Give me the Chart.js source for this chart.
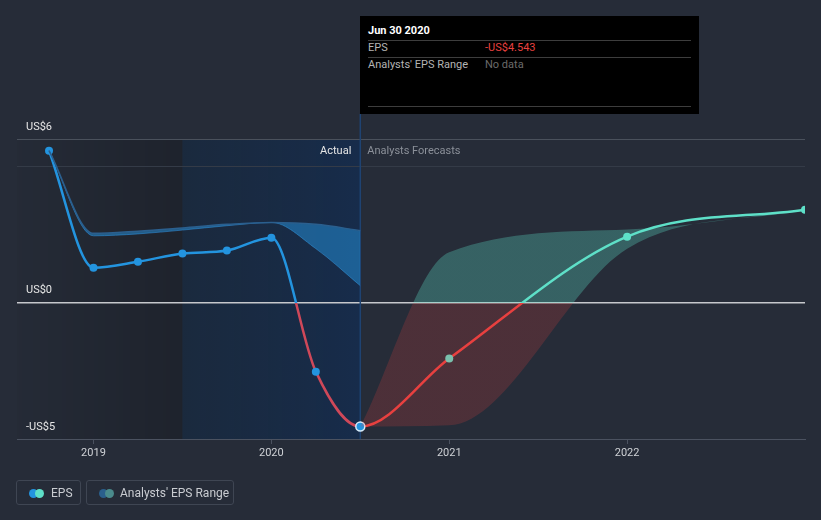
<!DOCTYPE html>
<html>
<head>
<meta charset="utf-8">
<script src="https://cdn.jsdelivr.net/npm/chart.js@4.4.0/dist/chart.umd.min.js"></script>
<style>
body{margin:0;background:#262c38;font-family:Roboto,"Noto Sans",sans-serif;}
#wrap{position:relative;width:821px;height:520px;overflow:hidden;}
#chart{position:absolute;left:0;top:0;}
#tip{position:absolute;left:360px;top:16px;width:339px;height:98px;background:#000;font-size:11px;}
#tip .t{position:absolute;left:8px;top:8px;color:#fff;font-weight:bold;}
#tip .rule{position:absolute;left:8px;width:323px;height:1px;background:#3d3d3d;}
#tip .k{position:absolute;left:8px;color:#b4b4b4;}
#tip .v{position:absolute;left:125px;}
.leg{position:absolute;top:480px;height:25px;border:1px solid #3f4653;border-radius:3px;color:#c9ccd1;font-size:12px;line-height:25px;box-sizing:border-box;}
.dot{position:absolute;top:8px;width:9px;height:9px;border-radius:50%;}
</style>
</head>
<body>
<div id="wrap">
  <canvas id="chart" width="821" height="520"></canvas>
  <div id="tip">
    <div class="t">Jun 30 2020</div>
    <div class="rule" style="top:24px"></div>
    <div class="k" style="top:25px">EPS</div>
    <div class="v" style="top:25px;color:#e8413f">-US$4.543</div>
    <div class="rule" style="top:41px"></div>
    <div class="k" style="top:42px">Analysts' EPS Range</div>
    <div class="v" style="top:42px;color:#6b6b6b">No data</div>
    <div class="rule" style="top:90px"></div>
  </div>
  <div class="leg" style="left:16px;width:65px">
    <span class="dot" style="left:12px;background:#2394df"></span>
    <span class="dot" style="left:18px;background:#5ee0c8"></span>
    <span style="position:absolute;left:34px">EPS</span>
  </div>
  <div class="leg" style="left:86px;width:148px">
    <span class="dot" style="left:12px;background:#2a5f8c"></span>
    <span class="dot" style="left:18px;background:#4a8b8c"></span>
    <span style="position:absolute;left:33px">Analysts' EPS Range</span>
  </div>
</div>
<script>
// decimal years, Dec 31 2018 = 2019.0
const actualDates = [2018.75, 2019.0, 2019.25, 2019.5, 2019.75, 2020.0, 2020.25, 2020.5];
const actualEps = [5.57, 1.28, 1.50, 1.80, 1.91, 2.38, -2.53, -4.543];
const actualRangeHigh = [5.57, 2.54, 2.62, 2.74, 2.87, 2.94, 2.87, 2.64];
const actualRangeLow = [5.57, 2.45, 2.52, 2.66, 2.82, 2.94, 1.98, 0.62];

// forecast starts at the last reported quarter
const forecastDates = [2020.5, 2021.0, 2022.0, 2023.0];
const forecastEps = [-4.543, -2.05, 2.42, 3.41];
const forecastHigh = [-4.543, 1.85, 2.68, 3.41];
const forecastLow = [-4.543, -4.5, 1.98, 3.41];

const xTicks = [2019, 2020, 2021, 2022];
const yTicks = [-5, 0, 5, 6];
const yTickLabels = ['-US$5', 'US$0', '', 'US$6'];

const xMin = 2018.57, xMax = 2023.0;
const shadeStart = 2019.5;   // start of blue "actual" shade
const actualEnd = 2020.5;    // last reported quarter

const lastIdx = actualDates.length - 1;
// one continuous EPS line so the curve stays smooth through Jun 2020
const epsDates = actualDates.concat(forecastDates.slice(1));
const epsValues = actualEps.concat(forecastEps.slice(1));

function pts(xs, ys){ return xs.map((x, i) => ({x: x, y: ys[i]})); }

function zeroSplit(chart, above, below){
    const {ctx, chartArea, scales} = chart;
    if(!chartArea) return above;
    const y0 = scales.y.getPixelForValue(0);
    const f = Math.min(1, Math.max(0, (y0 - chartArea.top) / (chartArea.bottom - chartArea.top)));
    const g = ctx.createLinearGradient(0, chartArea.top, 0, chartArea.bottom);
    g.addColorStop(0, above); g.addColorStop(f, above);
    g.addColorStop(f, below); g.addColorStop(1, below);
    return g;
}

// background shading, vertical marker, section labels
const decor = {
    id: 'decor',
    beforeDraw(chart){
        const {ctx, chartArea: a, scales: {x}} = chart;
        const xs = x.getPixelForValue(shadeStart);
        const xe = x.getPixelForValue(actualEnd);
        ctx.save();
        let g = ctx.createLinearGradient(a.left, 0, xs, 0);
        g.addColorStop(0, 'rgba(0,0,0,0.02)');
        g.addColorStop(1, 'rgba(0,0,0,0.2)');
        ctx.fillStyle = g;
        ctx.fillRect(a.left, a.top, xs - a.left, a.bottom - a.top);
        g = ctx.createLinearGradient(xs, 0, xe, 0);
        g.addColorStop(0, 'rgba(10,39,71,0.4)');
        g.addColorStop(1, 'rgba(8,44,94,0.5)');
        ctx.fillStyle = g;
        ctx.fillRect(xs, a.top, xe - xs, a.bottom - a.top);
        ctx.restore();
    },
    beforeDatasetsDraw(chart){
        const {ctx, chartArea: a, scales: {x}} = chart;
        const xe = x.getPixelForValue(actualEnd);
        ctx.save();
        ctx.strokeStyle = '#1f4372';
        ctx.lineWidth = 1.5;
        ctx.beginPath();
        ctx.moveTo(xe, 114);
        ctx.lineTo(xe, a.bottom);
        ctx.stroke();
        ctx.font = '11px Roboto';
        ctx.textBaseline = 'middle';
        ctx.textAlign = 'right';
        ctx.fillStyle = '#e6e6e6';
        ctx.fillText('Actual', xe - 9, a.top + 12);
        ctx.textAlign = 'left';
        ctx.fillStyle = '#8b9099';
        ctx.fillText('Analysts Forecasts', xe + 7, a.top + 12);
        ctx.restore();
    }
};

new Chart(document.getElementById('chart'), {
    type: 'line',
    data: {
        datasets: [
            {
                data: pts(actualDates, actualRangeHigh),
                fill: '+1',
                backgroundColor: 'rgba(35,148,223,0.5)',
                borderColor: '#2b5f8e',
                borderWidth: 1.5,
                pointRadius: 0,
                cubicInterpolationMode: 'monotone'
            },
            {
                data: pts(actualDates, actualRangeLow),
                fill: false,
                borderColor: '#2b5f8e',
                borderWidth: 1,
                pointRadius: 0,
                cubicInterpolationMode: 'monotone'
            },
            {
                data: pts(forecastDates, forecastHigh),
                fill: '+1',
                backgroundColor: c => zeroSplit(c.chart, 'rgba(94,224,200,0.3)', 'rgba(232,64,63,0.2)'),
                borderWidth: 0,
                pointRadius: 0,
                cubicInterpolationMode: 'monotone'
            },
            {
                data: pts(forecastDates, forecastLow),
                fill: false,
                borderWidth: 0,
                pointRadius: 0,
                cubicInterpolationMode: 'monotone'
            },
            {
                data: pts(epsDates, epsValues),
                fill: false,
                borderWidth: 2.5,
                borderColor: '#2394df',
                segment: {
                    borderColor: c => c.p0DataIndex < lastIdx
                        ? zeroSplit(c.chart, '#2394df', '#cf4859')
                        : zeroSplit(c.chart, '#5ee0c8', '#e8403f')
                },
                pointRadius: epsDates.map((d, i) => i == lastIdx ? 4.5 : 4),
                pointBackgroundColor: epsDates.map((d, i) => i <= lastIdx ? '#2394df' : '#5ee0c8'),
                pointBorderColor: epsDates.map((d, i) => i == lastIdx ? '#d8ecfa' : 'rgba(0,0,0,0)'),
                pointBorderWidth: epsDates.map((d, i) => i == lastIdx ? 1.5 : 0),
                cubicInterpolationMode: 'monotone'
            }
        ]
    },
    options: {
        responsive: false,
        animation: false,
        events: [],
        layout: {padding: {left: 17, right: 16, top: 139, bottom: 41}},
        plugins: {legend: {display: false}, tooltip: {enabled: false}},
        scales: {
            x: {
                type: 'linear',
                min: xMin,
                max: xMax,
                afterBuildTicks: s => { s.ticks = xTicks.map(v => ({value: v})); },
                afterFit: s => { s.height = 40; },
                ticks: {
                    color: '#cfd2d6',
                    font: {family: 'Roboto', size: 11},
                    padding: 3,
                    callback: v => String(v)
                },
                grid: {drawOnChartArea: false, drawTicks: true, tickLength: 5, color: '#4b5260'},
                border: {color: '#4b5260'}
            },
            y: {
                min: -5,
                max: 6,
                afterBuildTicks: s => { s.ticks = yTicks.map(v => ({value: v})); },
                afterFit: s => { s.width = 0; },
                ticks: {
                    mirror: true,
                    padding: 9,
                    labelOffset: -12,
                    color: '#e6e6e6',
                    font: {family: 'Roboto', size: 11},
                    callback: v => yTickLabels[yTicks.indexOf(v)]
                },
                grid: {
                    drawTicks: false,
                    color: c => c.tick.value == 0 ? '#c6c8cc' : c.tick.value == 6 ? '#4a515c' : c.tick.value == 5 ? '#343b47' : '#4b5260',
                    lineWidth: c => c.tick.value == 0 ? 1.5 : 1
                },
                border: {display: false}
            }
        }
    },
    plugins: [decor]
});
</script>
</body>
</html>
